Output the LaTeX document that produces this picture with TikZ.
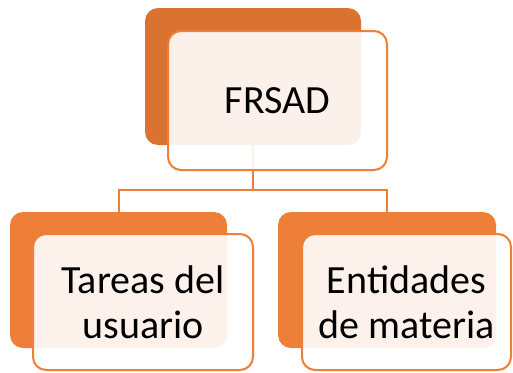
\documentclass[tikz,border=0pt]{standalone}
\usepackage{fontspec}
\setmainfont{Carlito}
\definecolor{topor}{HTML}{DA7231}
\definecolor{botor}{HTML}{EE7F38}
\definecolor{lineor}{HTML}{EE7F38}
\begin{document}
\begin{tikzpicture}[x=1pt,y=-1pt,
  backbox/.style={fill=#1,draw=none,rounded corners=13pt,outer sep=0pt,inner sep=0pt},
  frontbox/.style={fill=white,fill opacity=0.9,text opacity=1,draw=lineor,draw opacity=1,line width=2pt,rounded corners=13pt,outer sep=0pt,inner sep=0pt,align=center,font=\fontsize{40}{45}\selectfont},
  conn/.style={draw=lineor,line width=2pt}]
\useasboundingbox (0,0) rectangle (513,372);
% back boxes
\node[backbox=topor,minimum width=216pt,minimum height=137pt] (tb) at (253,76.5) {};
\node[backbox=botor,minimum width=217pt,minimum height=136pt] (lb) at (118.5,280) {};
\node[backbox=botor,minimum width=218pt,minimum height=136pt] (rb) at (387,280) {};
% connectors
\coordinate (j) at (253,190);
\draw[conn] (tb.south) -- (j) -| (lb.north);
\draw[conn] (j) -| (rb.north);
% front boxes
\node[frontbox,minimum width=219pt,minimum height=139pt] (tf) at (277.5,100.5) {FRSAD};
\node[frontbox,minimum width=220pt,minimum height=136pt] (lf) at (143,302) {Tareas del\\usuario};
\node[frontbox,minimum width=209pt,minimum height=136pt] (rf) at (406.5,302) {Entidades\\de materia};
\end{tikzpicture}
\end{document}
